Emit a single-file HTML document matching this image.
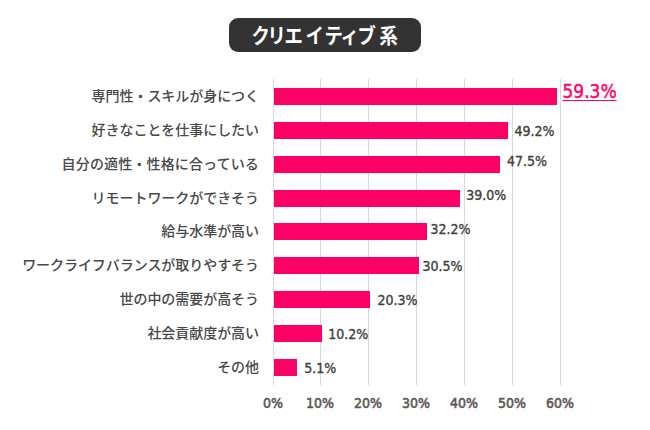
<!DOCTYPE html>
<html lang="ja"><head><meta charset="utf-8">
<style>
html,body{margin:0;padding:0;background:#fff;}
body{width:650px;height:430px;position:relative;overflow:hidden;font-family:"Liberation Sans","Noto Sans CJK JP",sans-serif;}
.title{position:absolute;left:229px;top:18px;width:192px;height:34px;border-radius:9px;background:#333333;}
.tc{position:absolute;height:34px;line-height:34px;color:#fff;font-family:"Noto Sans CJK JP",sans-serif;font-weight:700;font-size:19.5px;transform:scale(0.94,1.07);transform-origin:50% 50%;}
.g{position:absolute;top:79px;height:306px;width:1px;background:#d9d9d9;}
.bar{position:absolute;left:274px;height:17px;background:#ff0066;}
.cl{position:absolute;right:391px;height:20px;line-height:20px;font-size:14px;font-weight:500;letter-spacing:-0.05px;color:#484848;white-space:nowrap;
font-family:"Noto Sans CJK JP",sans-serif;}
.vl{position:absolute;height:20px;line-height:20px;font-family:"DejaVu Sans Condensed","DejaVu Sans",sans-serif;font-size:14px;color:#404040;white-space:nowrap;-webkit-text-stroke:0.35px #404040;}
.vl0{position:absolute;height:26px;line-height:26px;font-family:"DejaVu Sans Condensed","DejaVu Sans",sans-serif;font-size:19px;color:#ff0066;white-space:nowrap;-webkit-text-stroke:0.4px #ff0066;
text-decoration:underline;text-underline-offset:2px;text-decoration-thickness:1.3px;}
.xl{position:absolute;top:392.6px;width:60px;text-align:center;height:20px;line-height:20px;font-family:"DejaVu Sans Condensed","DejaVu Sans",sans-serif;font-size:14px;font-weight:400;color:#595959;-webkit-text-stroke:0.55px #595959;}
</style></head><body>
<div class="title"></div>
<span class="tc" style="left:251.10px;top:17.10px">ク</span><span class="tc" style="left:267.40px;top:17.10px">リ</span><span class="tc" style="left:284.20px;top:17.10px">エ</span><span class="tc" style="left:304.80px;top:17.10px">イ</span><span class="tc" style="left:323.70px;top:17.10px">テ</span><span class="tc" style="left:339.50px;top:17.10px">ィ</span><span class="tc" style="left:356.90px;top:17.10px">ブ</span><span class="tc" style="left:378.60px;top:17.10px">系</span>
<div class="g" style="left:273px"></div>
<div class="g" style="left:320px"></div>
<div class="g" style="left:368px"></div>
<div class="g" style="left:416px"></div>
<div class="g" style="left:464px"></div>
<div class="g" style="left:512px"></div>
<div class="g" style="left:560px"></div>
<div class="xl" style="left:243.00px">0%</div>
<div class="xl" style="left:290.00px">10%</div>
<div class="xl" style="left:338.00px">20%</div>
<div class="xl" style="left:386.00px">30%</div>
<div class="xl" style="left:434.00px">40%</div>
<div class="xl" style="left:482.00px">50%</div>
<div class="xl" style="left:530.00px">60%</div>
<div class="bar" style="top:88px;width:283px"></div>
<div class="cl" style="top:84.90px">専門性・スキルが身につく</div>
<div class="bar" style="top:122px;width:234px"></div>
<div class="cl" style="top:118.90px">好きなことを仕事にしたい</div>
<div class="bar" style="top:156px;width:226px"></div>
<div class="cl" style="top:152.90px;letter-spacing:0.15px">自分の適性・性格に合っている</div>
<div class="bar" style="top:190px;width:186px"></div>
<div class="cl" style="top:186.90px">リモートワークができそう</div>
<div class="bar" style="top:223px;width:153px"></div>
<div class="cl" style="top:219.90px">給与水準が高い</div>
<div class="bar" style="top:257px;width:145px"></div>
<div class="cl" style="top:253.90px">ワークライフバランスが取りやすそう</div>
<div class="bar" style="top:291px;width:96px"></div>
<div class="cl" style="top:287.90px">世の中の需要が高そう</div>
<div class="bar" style="top:325px;width:48px"></div>
<div class="cl" style="top:321.90px">社会貢献度が高い</div>
<div class="bar" style="top:359px;width:23px"></div>
<div class="cl" style="top:355.90px">その他</div>
<div class="vl0" style="top:77.65px;left:562.40px">59.3%</div>
<div class="vl" style="top:120.90px;left:514.39px">49.2%</div>
<div class="vl" style="top:150.90px;left:506.96px">47.5%</div>
<div class="vl" style="top:185.20px;left:466.30px">39.0%</div>
<div class="vl" style="top:219.20px;left:430.57px">32.2%</div>
<div class="vl" style="top:255.80px;left:422.49px">30.5%</div>
<div class="vl" style="top:290.20px;left:377.40px">20.3%</div>
<div class="vl" style="top:324.05px;left:328.24px">10.2%</div>
<div class="vl" style="top:358.05px;left:304.34px">5.1%</div>
</body></html>
